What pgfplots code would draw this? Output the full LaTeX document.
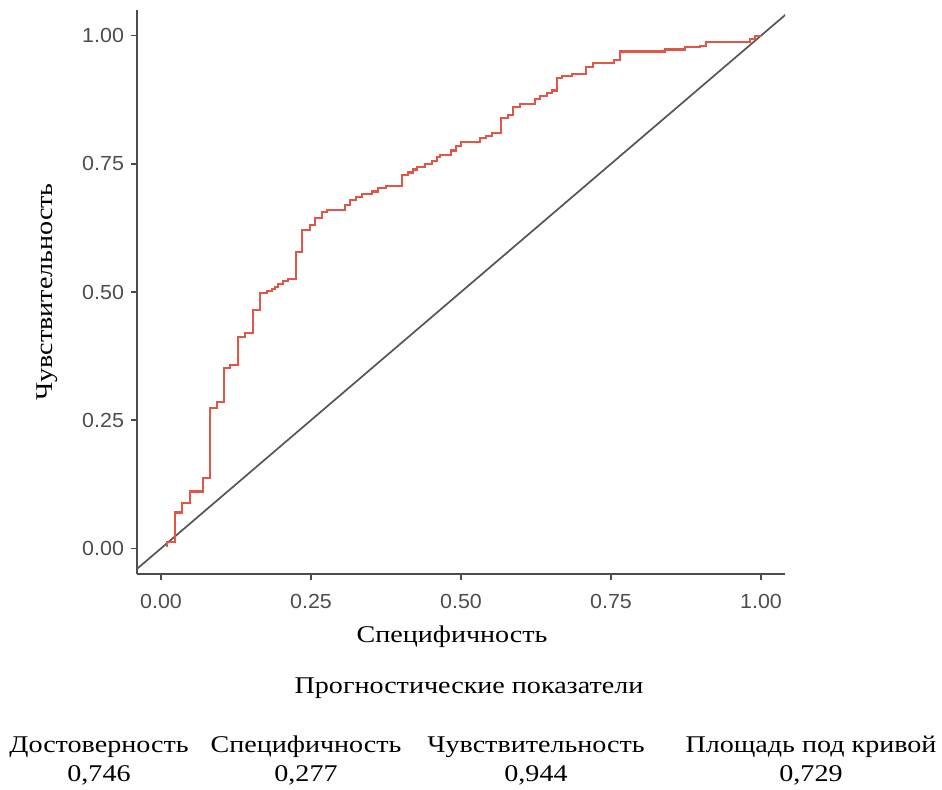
\documentclass[border=0pt]{standalone}
\usepackage{fontspec}
\setmainfont{Liberation Serif}[FakeStretch=1.17]
\newfontfamily\tickfont{Liberation Sans}[FakeStretch=1.05]
\usepackage{pgfplots}
\pgfplotsset{compat=1.18}
\definecolor{roc}{RGB}{226,86,72}
\definecolor{axgray}{RGB}{77,77,77}
\definecolor{diag}{RGB}{85,85,85}
\newcommand\serif{\fontsize{12}{14}\selectfont}
\begin{document}
\begin{tikzpicture}[x=0.5pt,y=-0.5pt]
\useasboundingbox (0,0) rectangle (942,789);
\begin{axis}[
  at={(68.5pt,-287pt)}, anchor=south west,
  width=324pt, height=282pt, scale only axis,
  xmin=-0.04, xmax=1.04, ymin=-0.05, ymax=1.05,
  axis x line*=bottom, axis y line*=left,
  axis line style={-, axgray, line width=0.85pt},
  xtick={0,0.25,0.5,0.75,1}, ytick={0,0.25,0.5,0.75,1},
  tick align=outside, major tick length=3pt,
  tick style={axgray, line width=0.85pt},
  /pgf/number format/assume math mode=true,
  /pgf/number format/.cd, fixed, fixed zerofill, precision=2, /pgfplots/.cd,
  ticklabel style={font=\tickfont\fontsize{10.2}{12}\selectfont, text=axgray},
  xticklabel style={yshift=-3.5pt},
  clip=true,
]
\addplot[diag, line width=0.85pt] coordinates {(-0.05,-0.05) (1.05,1.05)};
\addplot[roc, line width=1.05pt, const plot] coordinates {
(0.008,0.004) (0.010,0.012) (0.023,0.070) (0.035,0.089) (0.048,0.111)
(0.070,0.138) (0.082,0.274) (0.093,0.286) (0.105,0.352) (0.115,0.358)
(0.128,0.412) (0.140,0.420) (0.153,0.465) (0.165,0.498) (0.177,0.502)
(0.185,0.506) (0.190,0.510) (0.195,0.516) (0.203,0.521) (0.212,0.525)
(0.225,0.578) (0.235,0.621) (0.248,0.630) (0.257,0.644) (0.268,0.656)
(0.277,0.660) (0.307,0.669) (0.315,0.679) (0.325,0.685) (0.335,0.691)
(0.352,0.696) (0.362,0.702) (0.375,0.706) (0.402,0.728) (0.412,0.733)
(0.420,0.739) (0.427,0.743) (0.440,0.749) (0.452,0.755) (0.460,0.763)
(0.465,0.767) (0.483,0.776) (0.492,0.784) (0.500,0.792) (0.532,0.800)
(0.542,0.805) (0.552,0.811) (0.567,0.840) (0.578,0.846) (0.587,0.860)
(0.598,0.866) (0.623,0.877) (0.632,0.883) (0.643,0.889) (0.652,0.893)
(0.660,0.918) (0.668,0.922) (0.685,0.926) (0.708,0.938) (0.720,0.946)
(0.755,0.953) (0.765,0.969) (0.840,0.973) (0.873,0.977) (0.898,0.980)
(0.908,0.988) (0.982,0.994) (0.990,1.000) (1.000,1.000)
};
\end{axis}
\node[font=\serif, anchor=base] at (452,642) {Специфичность};
\node[font=\serif, rotate=90, anchor=base] at (52,292) {Чувствительность};
\node[font=\serif, anchor=base] at (469,693) {Прогностические показатели};
\node[font=\serif, anchor=base] at (99,752) {Достоверность};
\node[font=\serif, anchor=base] at (99,781) {0,746};
\node[font=\serif, anchor=base] at (306,752) {Специфичность};
\node[font=\serif, anchor=base] at (306,781) {0,277};
\node[font=\serif, anchor=base] at (536,752) {Чувствительность};
\node[font=\serif, anchor=base] at (536,781) {0,944};
\node[font=\serif, anchor=base] at (811,752) {Площадь под кривой};
\node[font=\serif, anchor=base] at (811,781) {0,729};
\end{tikzpicture}
\end{document}
